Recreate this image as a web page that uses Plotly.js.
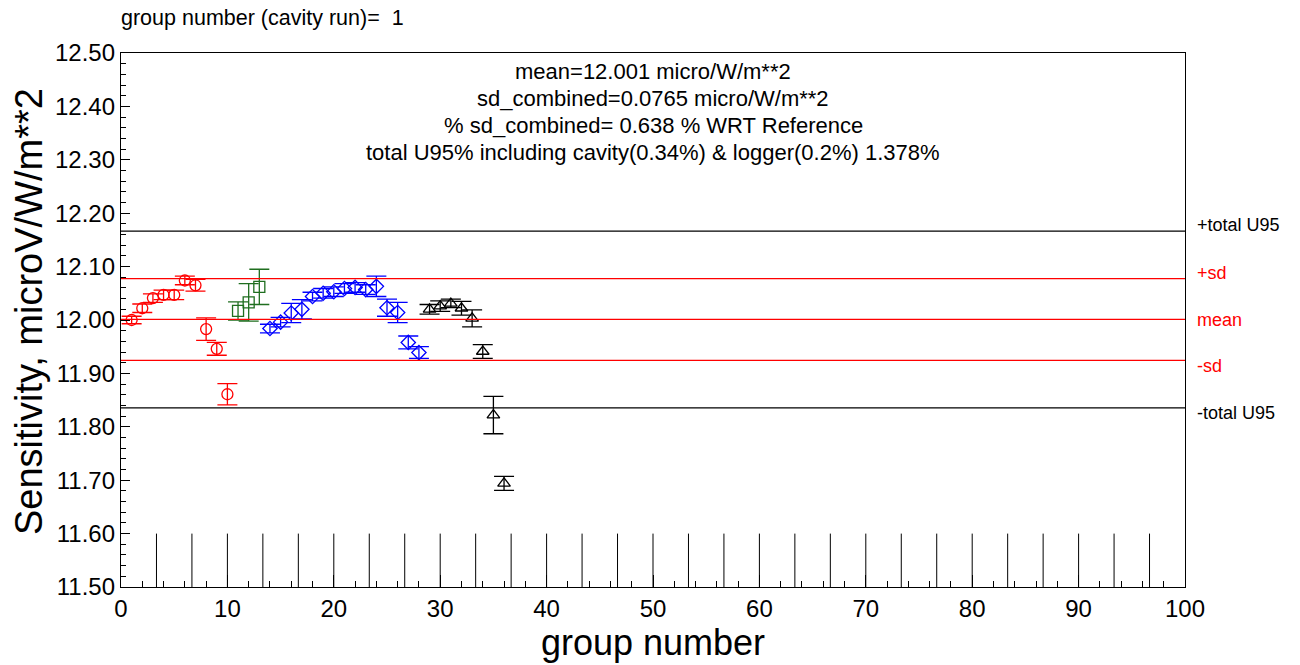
<!DOCTYPE html>
<html>
<head>
<meta charset="utf-8">
<script src="https://cdn.plot.ly/plotly-3.0.1.min.js"></script>
<style>html,body{margin:0;padding:0;background:#fff;}#chart{width:1300px;height:665px;}</style>
</head>
<body>
<div id="chart"></div>
<script>
// Group 1 (red circles)
var g1x = [1, 2, 3, 4, 5, 6, 7, 8, 9, 10];
var g1y = [12.000, 12.022, 12.041, 12.047, 12.047, 12.074, 12.065, 11.983, 11.946, 11.861];
var g1e = [0.007, 0.008, 0.008, 0.009, 0.009, 0.008, 0.011, 0.021, 0.012, 0.020];
// Group 2 (green squares)
var g2x = [11, 12, 13];
var g2y = [12.017, 12.033, 12.062];
var g2e = [0.017, 0.035, 0.033];
// Group 3 (blue diamonds)
var g3x = [14, 15, 16, 17, 18, 19, 20, 21, 22, 23, 24, 25, 26, 27, 28];
var g3y = [11.984, 11.996, 12.013, 12.020, 12.044, 12.050, 12.053, 12.059, 12.061, 12.057, 12.063, 12.023, 12.014, 11.958, 11.939];
var g3e = [0.008, 0.009, 0.018, 0.018, 0.008, 0.009, 0.009, 0.009, 0.009, 0.009, 0.019, 0.016, 0.019, 0.012, 0.011];
// Group 4 (black triangles)
var g4x = [29, 30, 31, 32, 33, 34, 35, 36];
var g4y = [12.020, 12.026, 12.031, 12.022, 12.003, 11.941, 11.822, 11.694];
var g4e = [0.009, 0.010, 0.008, 0.013, 0.016, 0.013, 0.035, 0.013];

// Reference lines
var meanVal = 12.001;
var sdVal = 0.0765;
var u95Pct = 1.378;
var lineNames = ["+total U95", "+sd", "mean", "-sd", "-total U95"];
var statLines = [
  "mean=12.001 micro/W/m**2",
  "sd_combined=0.0765 micro/W/m**2",
  "% sd_combined= 0.638 % WRT Reference",
  "total U95% including cavity(0.34%) &amp; logger(0.2%) 1.378%"
];
var topLabel = "group number (cavity run)=  1";
var xTitle = "group number";
var yTitle = "Sensitivity, microV/W/m**2";

var FONT = "Liberation Sans, Arial, Helvetica, sans-serif";

function mk(x, y, e, color, symbol, size) {
  return {
    x: x, y: y, type: "scatter", mode: "markers",
    marker: {symbol: symbol, size: size, color: color, line: {color: color, width: 1.3}},
    error_y: {type: "data", array: e, visible: true, color: color, thickness: 1.3, width: 10},
    showlegend: false, hoverinfo: "x+y"
  };
}

var traces = [
  mk(g1x, g1y, g1e, "#ff0000", "circle-open", 11),
  mk(g2x, g2y, g2e, "#1f6e1f", "square-open", 11),
  mk(g3x, g3y, g3e, "#0000ff", "diamond-open", 11),
  mk(g4x, g4y, g4e, "#000000", "triangle-up-open", 11)
];

var u95 = meanVal * u95Pct / 100;
var lineVals = [meanVal + u95, meanVal + sdVal, meanVal, meanVal - sdVal, meanVal - u95];
var lineCols = ["#000000", "#ff0000", "#ff0000", "#ff0000", "#000000"];
var labelShift = [6, 6, -1, -6, -5];

var shapes = [];
for (var i = 0; i < lineVals.length; i++) {
  shapes.push({type: "line", xref: "x", yref: "y", x0: 0, x1: 100, y0: lineVals[i], y1: lineVals[i],
    line: {color: lineCols[i], width: 1.2}});
}
for (var k = 1; k <= 29; k++) {
  shapes.push({type: "line", xref: "x", yref: "y", x0: k * 10 / 3, x1: k * 10 / 3, y0: 11.5, y1: 11.6,
    line: {color: "#000000", width: 1}});
}

var annotations = [];
for (var j = 0; j < lineVals.length; j++) {
  annotations.push({xref: "paper", yref: "y", x: 1.01, y: lineVals[j], yshift: labelShift[j],
    xanchor: "left", yanchor: "middle", text: lineNames[j], showarrow: false, borderpad: 0,
    font: {family: FONT, size: 18, color: lineCols[j]}});
}
var statY = [72, 98, 125, 152];
for (var s = 0; s < statLines.length; s++) {
  annotations.push({xref: "paper", yref: "paper", x: 0.5, y: (587 - statY[s]) / 534, xanchor: "center", yanchor: "middle",
    text: statLines[s], showarrow: false, borderpad: 0,
    font: {family: FONT, size: 22, color: "#000"}});
}
annotations.push({xref: "paper", yref: "paper", x: 0, y: (587 - 18) / 534, xanchor: "left", yanchor: "middle",
  text: topLabel, showarrow: false, borderpad: 0, xshift: -1, font: {family: FONT, size: 21.5, color: "#000"}});
// y-axis title placed as rotated text
annotations.push({xref: "paper", yref: "paper", x: (29 - 121) / 1064, y: (587 - 312) / 534, xanchor: "center", yanchor: "middle",
  text: yTitle, textangle: -90, showarrow: false, borderpad: 0, font: {family: FONT, size: 38, color: "#000"}});

var layout = {
  width: 1300, height: 665,
  margin: {l: 121, r: 115, t: 53, b: 78},
  paper_bgcolor: "#fff", plot_bgcolor: "#fff",
  font: {family: FONT, color: "#000"},
  showlegend: false,
  xaxis: {
    range: [0, 100], tick0: 0, dtick: 10, showgrid: false, zeroline: false,
    showline: true, linecolor: "#000", linewidth: 1.2, mirror: true,
    ticks: "inside", ticklen: 12, tickcolor: "#000",
    minor: {dtick: 2, ticks: "inside", ticklen: 6, tickcolor: "#000", showgrid: false},
    tickfont: {family: FONT, size: 24},
    title: {text: xTitle, font: {family: FONT, size: 36}, standoff: 5}
  },
  yaxis: {
    range: [11.5, 12.5], tick0: 11.5, dtick: 0.1, tickformat: ".2f", showgrid: false, zeroline: false,
    showline: true, linecolor: "#000", linewidth: 1.2, mirror: true,
    ticks: "inside", ticklen: 9, tickcolor: "#000",
    minor: {dtick: 0.02, ticks: "inside", ticklen: 5, tickcolor: "#000", showgrid: false},
    tickfont: {family: FONT, size: 24}
  },
  shapes: shapes,
  annotations: annotations
};

Plotly.newPlot("chart", traces, layout, {staticPlot: true, displayModeBar: false});
</script>
</body>
</html>
